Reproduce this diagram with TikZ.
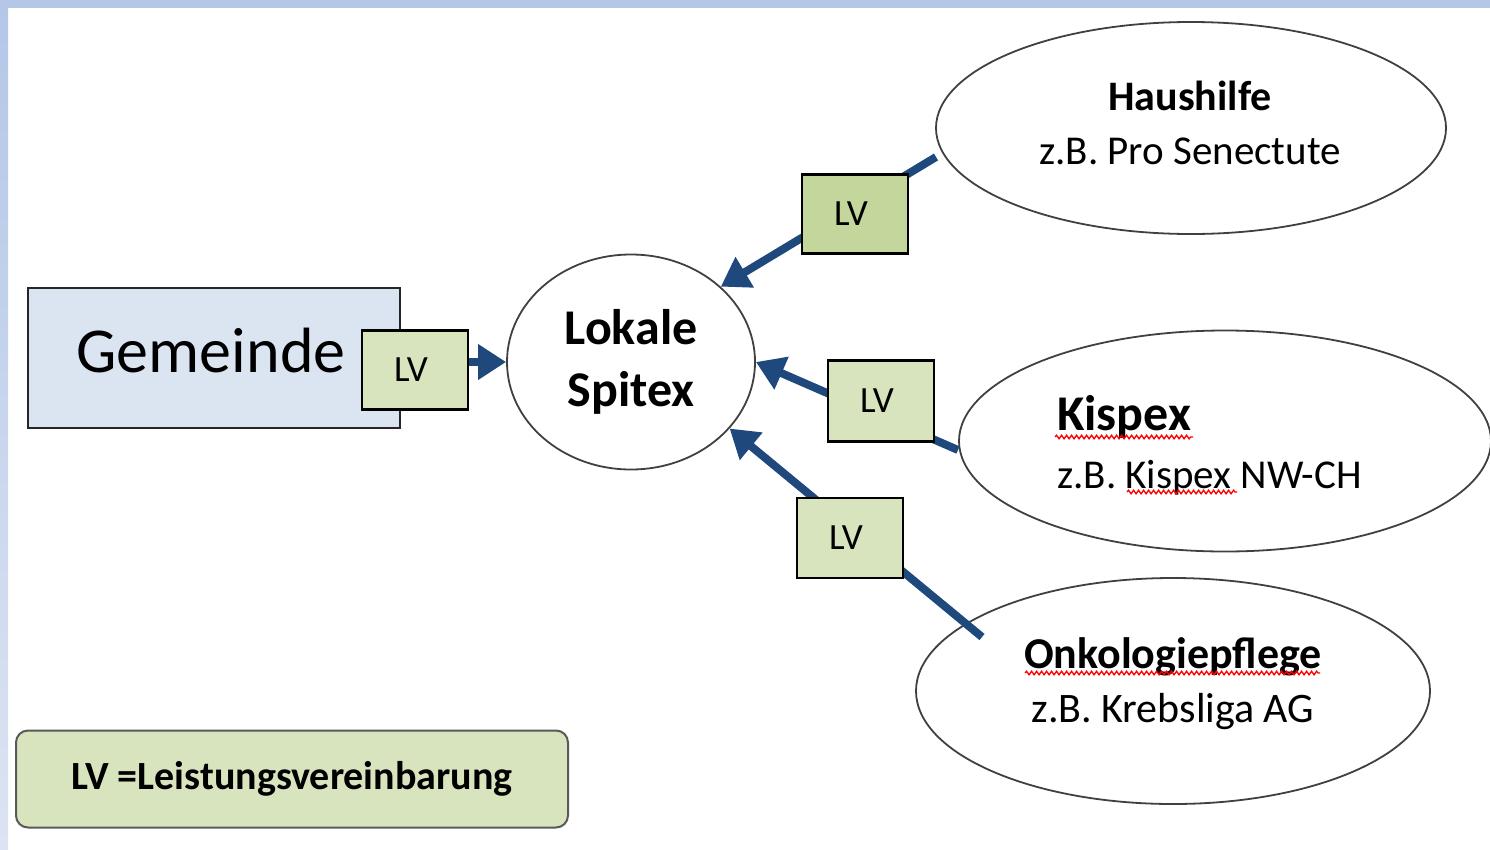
\documentclass[tikz,border=0pt]{standalone}
\usepackage{fontspec}
\setmainfont{Carlito}
\usetikzlibrary{shapes.geometric, arrows.meta, positioning, decorations.pathmorphing}
\definecolor{bar}{HTML}{B4C7E7}
\definecolor{barlight}{HTML}{DCE4F3}
\definecolor{gemfill}{HTML}{DBE5F1}
\definecolor{lvfill}{HTML}{D7E4BD}
\definecolor{lvdark}{HTML}{C3D69B}
\definecolor{arrowblue}{HTML}{1F497D}
\newcommand{\fsz}[2]{\fontsize{#1}{#2}\selectfont}

\begin{document}
\begin{tikzpicture}[x=1pt, y=-1pt,
    lvbox/.style={draw, line width=2.5pt, fill=lvfill, minimum width=106pt, minimum height=79pt, inner sep=0pt, font=\fsz{37}{40}},
    partner/.style={draw=black!75, line width=1.8pt, ellipse, inner sep=0pt},
    link/.style={draw=arrowblue, line width=8pt, -{Triangle[width=34pt, length=28pt]}},
    spell/.style={draw=red, line width=1.3pt, decorate, decoration={snake, amplitude=1.8pt, segment length=5pt}}]
       \useasboundingbox (0,0) rectangle (1490,849);
       \fill[bar] (0,0) rectangle (1490,8);
       \shade[top color=bar, bottom color=barlight] (0,0) rectangle (8,849);

       % Gemeinde
       \node[draw=black!85, line width=2.3pt, fill=gemfill, minimum width=372pt, minimum height=140pt, inner sep=0pt] (gem) at (214,358) {};
       \node[font=\fsz{64}{70}] (gemname) at (211,350) {Gemeinde};
       \node[lvbox] (lvgem) at (415,370) {LV\hspace*{8pt}};

       % Spitex und Partner
       \node[partner, minimum width=248pt, minimum height=215pt, align=center, font=\bfseries\fsz{50}{62}] (spitex) at (631,362) {Lokale\\Spitex};
       \node[partner, minimum width=510pt, minimum height=212pt] (haus) at (1191,128) {};
       \node[partner, minimum width=532pt, minimum height=221pt] (kis) at (1225,441) {};
       \node[partner, minimum width=514pt, minimum height=226pt] (onko) at (1173,691) {};

       \node[anchor=north, align=center, inner sep=0pt, font=\fsz{41}{54}] (hausname) at (1190,81) {{\bfseries\fsz{42}{54}Haushilfe}\\z.B. Pro Senectute};
       \node[anchor=north west, align=left, inner sep=0pt, font=\fsz{41}{58}] (kisname) at (1057,395) {{\bfseries\fsz{50}{58}Kispex}\\z.B. Kispex NW-CH};
       \node[anchor=north, align=center, inner sep=0pt, font=\fsz{42}{54}] (onkoname) at (1173,637) {{\bfseries\fsz{44}{54}Onkologiepflege}\\z.B. Krebsliga AG};

       % Rechtschreibung
       \draw[spell] (1055,437) -- (1193,437);
       \draw[spell] (1127,492) -- (1237,492);
       \draw[spell] (1025,673) -- (1320,673);

       % Leistungsvereinbarungen
       \coordinate (hausend) at (936,157);
       \coordinate (kisend) at (958,450);
       \coordinate (onkoend) at (982,637);
       \draw[link] (lvgem.east |- spitex.west) -- (spitex.west);
       \draw[link] (hausend) -- (spitex.40);
       \draw[link] (kisend) -- (spitex.0);
       \draw[link] (onkoend) -- (spitex.-34);

       \node[lvbox, fill=lvdark] (lvhaus) at (855,214) {LV\hspace*{8pt}};
       \node[lvbox, minimum height=81pt] (lvkis) at (881,401) {LV\hspace*{8pt}};
       \node[lvbox, minimum height=80pt] (lvonko) at (850,538) {LV\hspace*{8pt}};

       % Legende
       \node[draw=black!65, line width=2pt, rounded corners=12pt, fill=lvfill, minimum width=552pt, minimum height=97pt, font=\bfseries\fsz{40}{44}] (legend) at (292,779) {LV =Leistungsvereinbarung};
\end{tikzpicture}
\end{document}
